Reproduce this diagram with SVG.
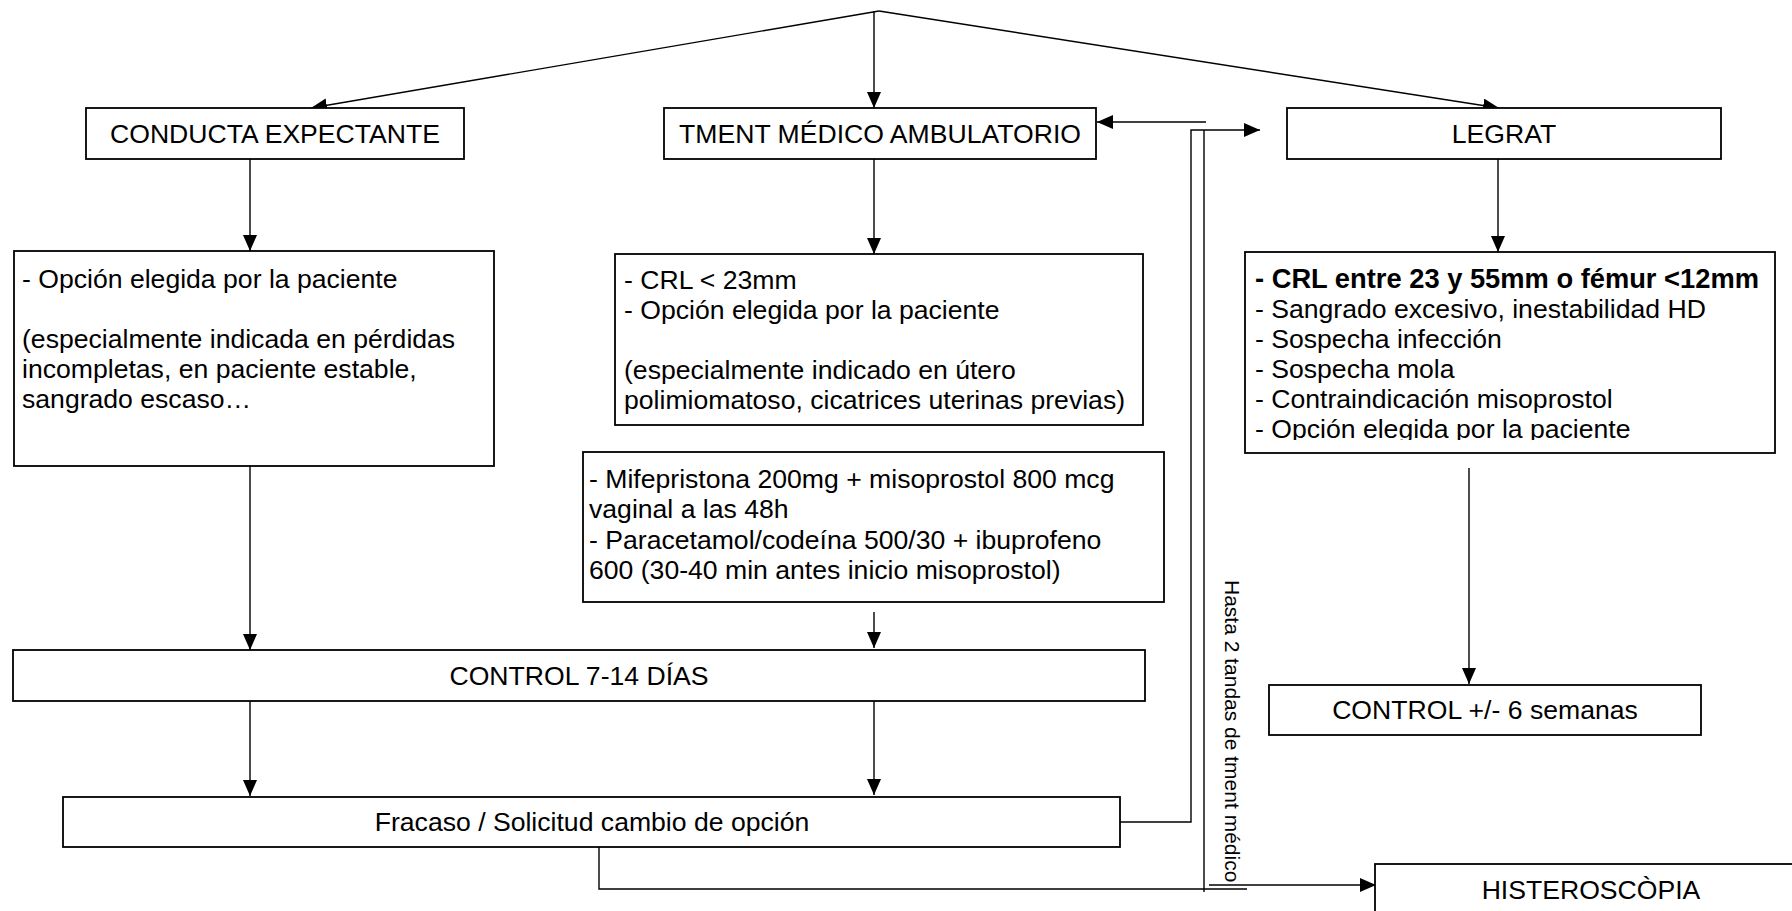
<svg xmlns="http://www.w3.org/2000/svg" width="1792" height="911" viewBox="0 0 1792 911">
<defs>
<style>
.box{fill:#fff;stroke:#000;stroke-width:1.8}
.ln{fill:none;stroke:#000;stroke-width:1.4}
.t{font-family:"Liberation Sans",Arial,sans-serif;font-size:26.6px;fill:#000}
.c{text-anchor:middle}
.b{font-weight:bold;font-size:27.3px}
.v{font-family:"Liberation Sans",Arial,sans-serif;font-size:21px;fill:#000}
</style>
<marker id="ah" markerWidth="16" markerHeight="14" refX="16" refY="7" orient="auto" markerUnits="userSpaceOnUse">
<path d="M0,0 L16,7 L0,14 z" fill="#000"/>
</marker>
<clipPath id="clipLeg"><rect x="1245" y="252" width="530" height="188"/></clipPath>
</defs>
<rect width="1792" height="911" fill="#fff"/>

<g id="connectors">
<line class="ln" x1="879" y1="11" x2="311" y2="108" marker-end="url(#ah)"/>
<line class="ln" x1="879" y1="11" x2="1499" y2="108" marker-end="url(#ah)"/>
<line class="ln" x1="874" y1="11" x2="874" y2="108" marker-end="url(#ah)"/>
<line class="ln" x1="250" y1="159" x2="250" y2="251" marker-end="url(#ah)"/>
<line class="ln" x1="874" y1="159" x2="874" y2="254" marker-end="url(#ah)"/>
<line class="ln" x1="1498" y1="159" x2="1498" y2="252" marker-end="url(#ah)"/>
<line class="ln" x1="250" y1="466" x2="250" y2="650" marker-end="url(#ah)"/>
<line class="ln" x1="874" y1="612" x2="874" y2="648" marker-end="url(#ah)"/>
<line class="ln" x1="250" y1="701" x2="250" y2="796" marker-end="url(#ah)"/>
<line class="ln" x1="874" y1="697" x2="874" y2="795" marker-end="url(#ah)"/>
<line class="ln" x1="1469" y1="468" x2="1469" y2="684" marker-end="url(#ah)"/>
<line class="ln" x1="1206" y1="122" x2="1097" y2="122" marker-end="url(#ah)"/>
<polyline class="ln" points="1120,822 1191,822 1191,130 1260,130" marker-end="url(#ah)"/>
<line class="ln" x1="1204" y1="130" x2="1204" y2="892"/>
<polyline class="ln" points="599,847 599,889 1247,889"/>
<line class="ln" x1="1209" y1="885" x2="1376" y2="885" marker-end="url(#ah)"/>
<text class="v" transform="translate(1225,580) rotate(90)">Hasta 2 tandas de tment médico</text>
</g>

<g id="conducta">
<rect class="box" x="86" y="108" width="378" height="51"/>
<text class="t c" x="275" y="143">CONDUCTA EXPECTANTE</text>
</g>

<g id="tment">
<rect class="box" x="664" y="108" width="432" height="51"/>
<text class="t c" x="880" y="143">TMENT MÉDICO AMBULATORIO</text>
</g>

<g id="legrat">
<rect class="box" x="1287" y="108" width="434" height="51"/>
<text class="t c" x="1504" y="143">LEGRAT</text>
</g>

<g id="expectante-detalle">
<rect class="box" x="14" y="251" width="480" height="215"/>
<text class="t" x="22" y="288">- Opción elegida por la paciente</text>
<text class="t" x="22" y="348">(especialmente indicada en pérdidas</text>
<text class="t" x="22" y="378">incompletas, en paciente estable,</text>
<text class="t" x="22" y="408">sangrado escaso…</text>
</g>

<g id="tment-detalle">
<rect class="box" x="615" y="254" width="528" height="171"/>
<text class="t" x="624" y="289">- CRL &lt; 23mm</text>
<text class="t" x="624" y="319">- Opción elegida por la paciente</text>
<text class="t" x="624" y="379">(especialmente indicado en útero</text>
<text class="t" x="624" y="409">polimiomatoso, cicatrices uterinas previas)</text>
</g>

<g id="legrat-detalle">
<rect class="box" x="1245" y="252" width="530" height="201"/>
<g clip-path="url(#clipLeg)">
<text class="t b" x="1255" y="288">- CRL entre 23 y 55mm o fémur &lt;12mm</text>
<text class="t" x="1255" y="318">- Sangrado excesivo, inestabilidad HD</text>
<text class="t" x="1255" y="348">- Sospecha infección</text>
<text class="t" x="1255" y="378">- Sospecha mola</text>
<text class="t" x="1255" y="408">- Contraindicación misoprostol</text>
<text class="t" x="1255" y="438">- Opción elegida por la paciente</text>
</g>
</g>

<g id="medicacion">
<rect class="box" x="583" y="452" width="581" height="150"/>
<text class="t" x="589" y="488">- Mifepristona 200mg + misoprostol 800 mcg</text>
<text class="t" x="589" y="518">vaginal a las 48h</text>
<text class="t" x="589" y="549">- Paracetamol/codeína 500/30 + ibuprofeno</text>
<text class="t" x="589" y="579">600 (30-40 min antes inicio misoprostol)</text>
</g>

<g id="control-7-14">
<rect class="box" x="13" y="650" width="1132" height="51"/>
<text class="t c" x="579" y="685">CONTROL 7-14 DÍAS</text>
</g>

<g id="fracaso">
<rect class="box" x="63" y="797" width="1057" height="50"/>
<text class="t c" x="592" y="831">Fracaso / Solicitud cambio de opción</text>
</g>

<g id="control-6-semanas">
<rect class="box" x="1269" y="685" width="432" height="50"/>
<text class="t c" x="1485" y="719">CONTROL +/- 6 semanas</text>
</g>

<g id="histeroscopia">
<rect class="box" x="1375" y="864" width="460" height="70"/>
<text class="t c" x="1591" y="899">HISTEROSCÒPIA</text>
</g>
</svg>
